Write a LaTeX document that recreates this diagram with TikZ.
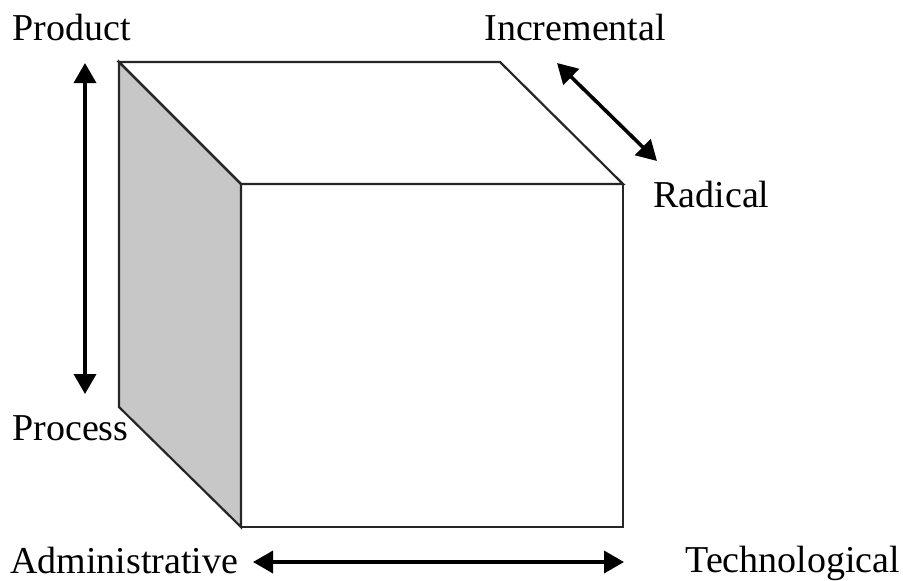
\documentclass[tikz,border=0pt]{standalone}
\usepackage{fontspec}
\setmainfont{Liberation Serif}
\usetikzlibrary{arrows.meta}
\begin{document}
\begin{tikzpicture}[x=0.5pt,y=-0.5pt,
  edge/.style={draw=black!85,line width=1.1pt,line join=miter},
  axis/.style={line width=1.8pt,{Triangle[width=11pt,length=10pt]}-{Triangle[width=11pt,length=10pt]}},
  lbl/.style={anchor=base west,inner sep=0pt,font=\fontsize{19}{22}\selectfont}]
\useasboundingbox (0,0) rectangle (903,580);
% cube corners
\coordinate (BTL) at (119,62);
\coordinate (BTR) at (500,62);
\coordinate (BBL) at (119,407);
\coordinate (FTL) at (241,184);
\coordinate (FTR) at (623,184);
\coordinate (FBL) at (241,527);
\coordinate (FBR) at (623,527);
% faces
\filldraw[edge,fill=black!22] (BTL) -- (FTL) -- (FBL) -- (BBL) -- cycle;
\draw[edge] (BTL) -- (BTR) -- (FTR) -- (FTL) -- cycle;
\draw[edge] (FTL) rectangle (FBR);
% labels
\node[lbl] (product) at (12,40) {Product};
\node[lbl] (process) at (12,440) {Process};
\node[lbl] (incr) at (484,40) {Incremental};
\node[lbl] (radical) at (653,207) {Radical};
\node[lbl] (admin) at (10,573) {Administrative};
\node[lbl] (tech) at (685,572) {Technological};
% arrow ends
\coordinate (v1) at (85,63);
\coordinate (v2) at (85,394);
\coordinate (d1) at (557,63);
\coordinate (d2) at (657,161);
\coordinate (h1) at (253,562);
\coordinate (h2) at (624,562);
\draw[axis] (v1) -- (v2);
\draw[axis] (d1) -- (d2);
\draw[axis] (h1) -- (h2);
\end{tikzpicture}
\end{document}
